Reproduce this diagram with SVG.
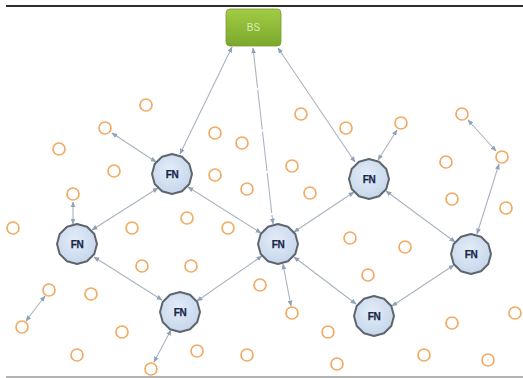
<svg xmlns="http://www.w3.org/2000/svg" width="523" height="378" viewBox="0 0 523 378">
<defs>
<linearGradient id="gBS" x1="0" y1="0" x2="0" y2="1"><stop offset="0" stop-color="#a2cc44"/><stop offset="1" stop-color="#7ba82c"/></linearGradient>
<radialGradient id="gFN" cx="0.45" cy="0.4" r="0.6"><stop offset="0" stop-color="#e4edf8"/><stop offset="1" stop-color="#c6d6ec"/></radialGradient>
<marker id="ah" viewBox="0 0 10 10" refX="9" refY="5" markerWidth="6" markerHeight="6" orient="auto-start-reverse" markerUnits="userSpaceOnUse"><path d="M0,1 L10,5 L0,9 z" fill="#8fa2b8"/></marker>
<polygon id="oct" points="20,0 17.3,10 10,17.3 0,20 -10,17.3 -17.3,10 -20,0 -17.3,-10 -10,-17.3 0,-20 10,-17.3 17.3,-10"/>
</defs>
<style>
.c{fill:none;stroke:#aab3c0;stroke-width:1.1;marker-start:url(#ah);marker-end:url(#ah)}
.o{fill:#fff;stroke:#f2ab64;stroke-width:1.7}
.fn use{fill:url(#gFN);stroke:#5f656d;stroke-width:2;stroke-linejoin:round}
.fn text{font-family:"Liberation Sans",Arial,sans-serif;font-weight:bold;font-size:10px;fill:#18264a;text-anchor:middle;letter-spacing:-0.3px;stroke:#18264a;stroke-width:0.25}
</style>
<rect width="523" height="378" fill="#fff"/>
<line x1="6" y1="6" x2="523" y2="6" stroke="#2e2e2e" stroke-width="2"/>
<line x1="6" y1="377" x2="523" y2="377" stroke="#9a9a9a" stroke-width="1.5"/>
<g id="connectors">
<line class="c" x1="232" y1="47" x2="180" y2="154"/>
<line class="c" x1="253" y1="48" x2="273" y2="224" stroke-dasharray="40 2"/>
<line class="c" x1="278" y1="48" x2="355" y2="162"/>
<line class="c" x1="112" y1="133" x2="156" y2="162"/>
<line class="c" x1="158" y1="188" x2="92" y2="230"/>
<line class="c" x1="188" y1="187" x2="261" y2="233"/>
<line class="c" x1="397" y1="130" x2="378" y2="160"/>
<line class="c" x1="354" y1="192" x2="294" y2="232"/>
<line class="c" x1="386" y1="191" x2="455" y2="242"/>
<line class="c" x1="468" y1="120" x2="496" y2="151"/>
<line class="c" x1="499" y1="164" x2="477" y2="234"/>
<line class="c" x1="73" y1="202" x2="73" y2="224"/>
<line class="c" x1="94" y1="257" x2="162" y2="300"/>
<line class="c" x1="262" y1="256" x2="197" y2="301"/>
<line class="c" x1="283" y1="264" x2="291" y2="306"/>
<line class="c" x1="294" y1="257" x2="356" y2="304"/>
<line class="c" x1="454" y1="265" x2="392" y2="306"/>
<line class="c" x1="171" y1="330" x2="154" y2="362"/>
<line class="c" x1="45" y1="296" x2="26" y2="321"/>
</g>
<g id="sensors">
<circle class="o" cx="146" cy="105" r="6"/>
<circle class="o" cx="105" cy="128" r="6"/>
<circle class="o" cx="59" cy="149" r="6"/>
<circle class="o" cx="215" cy="133" r="6"/>
<circle class="o" cx="242" cy="143" r="6"/>
<circle class="o" cx="301" cy="114" r="6"/>
<circle class="o" cx="346" cy="128" r="6"/>
<circle class="o" cx="401" cy="123" r="6"/>
<circle class="o" cx="462" cy="114" r="6"/>
<circle class="o" cx="502" cy="157" r="6"/>
<circle class="o" cx="446" cy="162" r="6"/>
<circle class="o" cx="114" cy="171" r="6"/>
<circle class="o" cx="215" cy="175" r="6"/>
<circle class="o" cx="292" cy="166" r="6"/>
<circle class="o" cx="247" cy="189" r="6"/>
<circle class="o" cx="73" cy="194" r="6"/>
<circle class="o" cx="310" cy="193" r="6"/>
<circle class="o" cx="452" cy="199" r="6"/>
<circle class="o" cx="506" cy="208" r="6"/>
<circle class="o" cx="13" cy="228" r="6"/>
<circle class="o" cx="132" cy="228" r="6"/>
<circle class="o" cx="187" cy="218" r="6"/>
<circle class="o" cx="228" cy="228" r="6"/>
<circle class="o" cx="350" cy="238" r="6"/>
<circle class="o" cx="405" cy="247" r="6"/>
<circle class="o" cx="142" cy="266" r="6"/>
<circle class="o" cx="191" cy="266" r="6"/>
<circle class="o" cx="368" cy="275" r="6"/>
<circle class="o" cx="260" cy="285" r="6"/>
<circle class="o" cx="49" cy="290" r="6"/>
<circle class="o" cx="91" cy="294" r="6"/>
<circle class="o" cx="292" cy="313" r="6"/>
<circle class="o" cx="22" cy="327" r="6"/>
<circle class="o" cx="122" cy="332" r="6"/>
<circle class="o" cx="328" cy="332" r="6"/>
<circle class="o" cx="452" cy="323" r="6"/>
<circle class="o" cx="515" cy="313" r="6"/>
<circle class="o" cx="77" cy="355" r="6"/>
<circle class="o" cx="197" cy="351" r="6"/>
<circle class="o" cx="247" cy="355" r="6"/>
<circle class="o" cx="151" cy="369" r="6"/>
<circle class="o" cx="337" cy="364" r="6"/>
<circle class="o" cx="424" cy="355" r="6"/>
<circle class="o" cx="488" cy="360" r="6"/>
</g>
<g id="BS">
<rect x="226" y="9" width="55" height="37" rx="4" fill="url(#gBS)" stroke="#7a9a36" stroke-width="0.8"/>
<text x="253.5" y="31" font-family="Liberation Sans,Arial,sans-serif" font-size="10" fill="#dcebb8" text-anchor="middle">BS</text>
</g>
<g id="FN1" class="fn"><use href="#oct" x="172" y="174"/><text x="172" y="178">FN</text></g>
<g id="FN2" class="fn"><use href="#oct" x="369" y="179"/><text x="369" y="183">FN</text></g>
<g id="FN3" class="fn"><use href="#oct" x="77" y="244"/><text x="77" y="248">FN</text></g>
<g id="FN4" class="fn"><use href="#oct" x="278" y="244"/><text x="278" y="248">FN</text></g>
<g id="FN5" class="fn"><use href="#oct" x="471" y="254"/><text x="471" y="258">FN</text></g>
<g id="FN6" class="fn"><use href="#oct" x="180" y="312"/><text x="180" y="316">FN</text></g>
<g id="FN7" class="fn"><use href="#oct" x="374" y="316"/><text x="374" y="320">FN</text></g>
</svg>
